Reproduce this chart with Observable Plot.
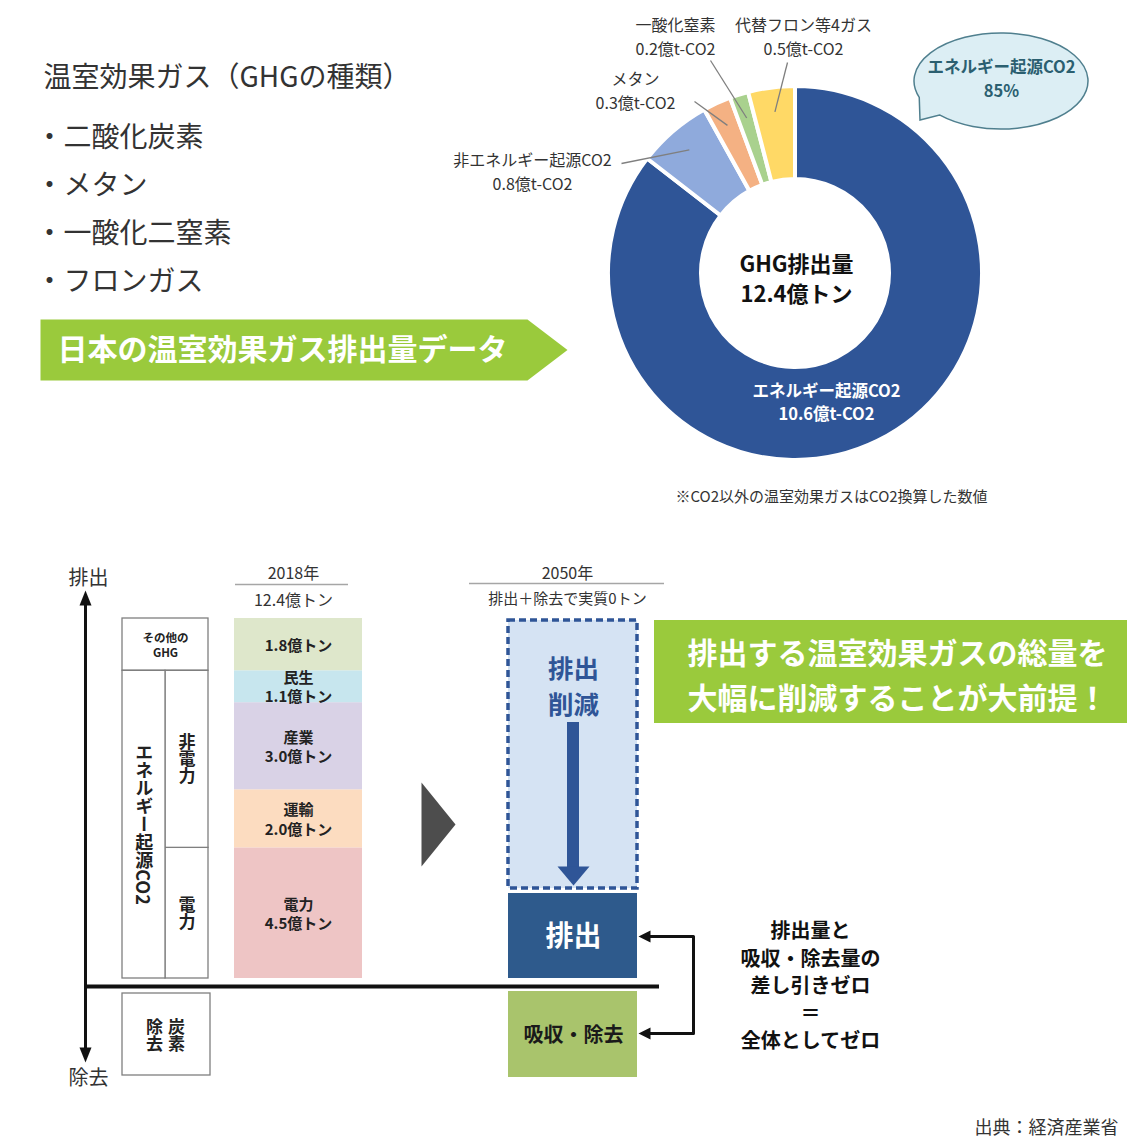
<!DOCTYPE html>
<html lang="ja">
<head>
<meta charset="utf-8">
<script src="https://cdn.jsdelivr.net/npm/d3@7"></script>
<script src="https://cdn.jsdelivr.net/npm/@observablehq/plot@0.6"></script>
<style>
html,body{margin:0;padding:0;background:#fff;}
#page{position:relative;width:1140px;height:1140px;background:#fff;overflow:hidden;}
#page svg{position:absolute;left:0;top:0;}
.vlabel{position:absolute;transform:translate(-50%,-50%);writing-mode:vertical-rl;text-orientation:mixed;
  font-family:"Noto Sans CJK JP","Noto Sans",sans-serif;font-weight:bold;color:#222;white-space:nowrap;line-height:1.3;}
</style>
</head>
<body>
<div id="page"></div>
<script>
// ---------------- DATA ----------------
const gasNames = ["エネルギー起源CO2", "非エネルギー起源CO2", "メタン", "一酸化窒素", "代替フロン等4ガス"];
const gasValues = [10.6, 0.8, 0.3, 0.2, 0.5];           // 億t-CO2
const gasColors = ["#2F5597", "#8FAADC", "#F4B183", "#A9D18E", "#FFD966"];

const sectorNames = ["電力", "運輸", "産業", "民生", "その他のGHG"];
const sectorValues = [4.5, 2.0, 3.0, 1.1, 1.8];         // 億トン (2018年)
const sectorColors = ["#EEC5C5", "#FCDCC0", "#D9D2E6", "#C7E6EE", "#DEE7CB"];

const groupNames = ["電力", "非電力", "その他のGHG"];
const groupValues = [4.5, 6.1, 1.8];

const ghgTypes = ["二酸化炭素", "メタン", "一酸化二窒素", "フロンガス"];

// ---------------- LAYOUT (pixels) ----------------
const FONT = '"Noto Sans CJK JP", "Noto Sans", sans-serif';
const L = {
  donut: {cx: 795, cy: 273, r0: 94, r1: 187, leaderR: 163},
  gasLabel: {
    "非エネルギー起源CO2": {x: 532, y: 170, lx: 621, ly: 163},
    "メタン": {x: 635, y: 89, lx: 694, ly: 101},
    "一酸化窒素": {x: 675, y: 35, lx: 710, ly: 60},
    "代替フロン等4ガス": {x: 803, y: 35, lx: 787, ly: 62}
  },
  energyLabel: {x: 826, y: 401},
  bubble: {cx: 1001, cy: 81, rx: 87, ry: 48, a1: 160, a2: 135, tx: 920, ty: 120},
  bar: {x1: 234, x2: 362, y0: 978, y1: 618},
  boxes: {c0: 122, c1: 165, c2: 208},
  removal: {x: 165, y: 1035}
};
const UNIT_GAS = "億t-CO2";

const page = document.getElementById("page");
const total = d3.sum(gasValues);
const fmt = v => v.toFixed(1);

function canvas(marks) {
  return Plot.plot({
    width: 1140, height: 1140, margin: 0,
    x: {domain: [0, 1140], range: [0, 1140], axis: null},
    y: {domain: [0, 1140], range: [0, 1140], axis: null},
    style: {background: "transparent", fontFamily: FONT, overflow: "visible"},
    marks
  });
}
const txt = (items, o) => Plot.text(items, {x: d => d[1], y: d => d[2], text: d => d[0], ...o});
const box = (x1, y1, x2, y2, o) => Plot.rect([0], {x1: () => x1, x2: () => x2, y1: () => y1, y2: () => y2, ...o});
const poly = (pts, fill) => Plot.line(pts, {x: d => d[0], y: d => d[1], fill, stroke: "none"});
const hline = (y, x1, x2, o) => Plot.ruleY([y], {x1: () => x1, x2: () => x2, ...o});
function vlabel(html, x, y, size) {
  const d = document.createElement("div");
  d.className = "vlabel";
  d.style.left = x + "px"; d.style.top = y + "px"; d.style.fontSize = size + "px";
  d.innerHTML = html;
  page.appendChild(d);
}

// ---------------- TOP: donut ----------------
const gases = gasNames.map((name, i) => ({name, value: gasValues[i], color: gasColors[i]}));
const arcs = d3.pie().sort(null).value(d => d.value)(gases);
const D = L.donut;
const polar = (a, r) => [D.cx + r * Math.sin(a), D.cy - r * Math.cos(a)];
const leaders = arcs.slice(1).map(a => {
  const p = polar((a.startAngle + a.endAngle) / 2, D.leaderR);
  const lab = L.gasLabel[a.data.name];
  return {...lab, ex: p[0], ey: p[1], name: a.data.name, value: a.data.value};
});

const donutMark = (index, scales) => {
  const k = scales.x(1) - scales.x(0);
  const g = d3.create("svg:g").attr("transform", `translate(${scales.x(D.cx)},${scales.y(D.cy)})`);
  const arc = d3.arc().innerRadius(D.r0 * k).outerRadius(D.r1 * k);
  g.selectAll("path").data(arcs).join("path")
    .attr("d", arc).attr("fill", d => d.data.color)
    .attr("stroke", "#fff").attr("stroke-width", 4).attr("stroke-linejoin", "round");
  return g.node();
};
const bubbleMark = (index, scales) => {
  const Bb = L.bubble, cx = scales.x(Bb.cx), cy = scales.y(Bb.cy);
  const p = a => [cx + Bb.rx * Math.cos(a * Math.PI / 180), cy + Bb.ry * Math.sin(a * Math.PI / 180)];
  const [x1, y1] = p(Bb.a1), [x2, y2] = p(Bb.a2);
  const path = `M${x1},${y1}A${Bb.rx},${Bb.ry} 0 1 1 ${x2},${y2}L${scales.x(Bb.tx)},${scales.y(Bb.ty)}Z`;
  return d3.create("svg:path").attr("d", path).attr("fill", "#DCEEF4")
    .attr("stroke", "#4F7F8E").attr("stroke-width", 1.5).node();
};

const topPlot = canvas([
  // left texts
  txt([["温室効果ガス（GHGの種類）", 43, 78]], {fontSize: 28, fill: "#333", textAnchor: "start"}),
  txt(ghgTypes.map((t, i) => ["・" + t, 35, 138 + i * 48]), {fontSize: 28, fill: "#333", textAnchor: "start"}),
  poly([[40, 319], [527, 319], [567, 349.5], [527, 380], [40, 380]], "#9ACA3C"),
  txt([["日本の温室効果ガス排出量データ", 57, 350]], {fontSize: 30, fontWeight: "bold", fill: "#fff", textAnchor: "start"}),
  // donut
  donutMark,
  Plot.link(leaders, {x1: "lx", y1: "ly", x2: "ex", y2: "ey", stroke: "#7F7F7F", strokeWidth: 1.3}),
  Plot.text(leaders, {x: "x", y: "y", text: d => `${d.name}\n${fmt(d.value)}${UNIT_GAS}`, fontSize: 16, lineHeight: 1.45, fill: "#333"}),
  Plot.text([gases[0]], {x: () => L.energyLabel.x, y: () => L.energyLabel.y, text: d => `${d.name}\n${fmt(d.value)}${UNIT_GAS}`, fontSize: 16.5, fontWeight: "bold", lineHeight: 1.36, fill: "#fff"}),
  txt([[`GHG排出量\n${fmt(total)}億トン`, 796, 277]], {fontSize: 22, fontWeight: "bold", lineHeight: 1.38, fill: "#111"}),
  bubbleMark,
  txt([[`${gasNames[0]}\n${Math.round(gasValues[0] / total * 100)}%`, 1001, 77]], {fontSize: 16.5, fontWeight: "bold", lineHeight: 1.42, fill: "#2B5F70"}),
  txt([["※CO2以外の温室効果ガスはCO2換算した数値", 675, 497]], {fontSize: 15, fill: "#333", textAnchor: "start"})
]);
page.appendChild(topPlot);

// ---------------- BOTTOM: schematic ----------------
const bottomPlot = canvas([
  // axis
  Plot.ruleX([85], {y1: () => 602, y2: () => 1050, stroke: "#111", strokeWidth: 3}),
  poly([[85, 590], [79, 605], [91, 605]], "#111"),
  poly([[85, 1062], [79, 1047], [91, 1047]], "#111"),
  hline(986, 85, 659, {stroke: "#111", strokeWidth: 4}),
  txt([["排出", 88, 578], ["除去", 88, 1078]], {fontSize: 20, fill: "#333"}),
  // headers
  txt([["2018年", 293, 573], [`${fmt(d3.sum(sectorValues))}億トン`, 293, 600], ["2050年", 567, 573]], {fontSize: 16, fill: "#333"}),
  txt([["排出＋除去で実質0トン", 567, 599]], {fontSize: 15, fill: "#333"}),
  hline(584, 235, 348, {stroke: "#A6A6A6", strokeWidth: 1.5}),
  hline(583, 469, 664, {stroke: "#A6A6A6", strokeWidth: 1.5}),
  // carbon removal box
  box(122, 993, 210, 1075, {fill: "#fff", stroke: "#7F7F7F", strokeWidth: 1.3}),
  // transition triangle
  poly([[421, 782], [455, 824], [421, 866]], "#4D4D4D"),
  // 2050 bars
  box(508, 620, 637, 888, {fill: "#D5E3F3", stroke: "#2F5597", strokeWidth: 3.5, strokeDasharray: "7,4"}),
  txt([["排出\n削減", 573, 684]], {fontSize: 25.5, fontWeight: "bold", lineHeight: 1.4, fill: "#2F5597"}),
  box(567, 722, 579, 868, {fill: "#2F5597"}),
  poly([[557, 866], [589, 866], [573, 885]], "#2F5597"),
  box(508, 893, 637, 978, {fill: "#2E5A8C"}),
  txt([["排出", 573, 937]], {fontSize: 28, fontWeight: "bold", fill: "#fff"}),
  box(508, 991, 637, 1077, {fill: "#A9C46C"}),
  txt([["吸収・除去", 573, 1035]], {fontSize: 20, fontWeight: "bold", fill: "#1A1A1A"}),
  // connector
  Plot.line([[648, 936], [693, 936], [693, 1033], [648, 1033]], {x: d => d[0], y: d => d[1], stroke: "#111", strokeWidth: 3}),
  poly([[638, 936], [650, 930], [650, 942]], "#111"),
  poly([[638, 1033], [650, 1027], [650, 1039]], "#111"),
  txt([["排出量と\n吸収・除去量の\n差し引きゼロ\n＝\n全体としてゼロ", 810, 984]], {fontSize: 20, fontWeight: "bold", lineHeight: 1.37, fill: "#111"}),
  // message box
  box(654, 620, 1127, 723, {fill: "#9ACA3C"}),
  txt([["排出する温室効果ガスの総量を\n大幅に削減することが大前提！", 897, 672]], {fontSize: 30, fontWeight: "bold", lineHeight: 1.5, fill: "#fff"}),
  txt([["出典：経済産業省", 1118, 1128]], {fontSize: 18, fill: "#333", textAnchor: "end"})
]);
page.appendChild(bottomPlot);

// ---------------- 2018 stacked bar (data scale) ----------------
const sectors = sectorNames.map((name, i) => ({name, value: sectorValues[i]}));
const groups = groupNames.map((name, i) => ({name, value: groupValues[i]}));
const BAR = L.bar, C = L.boxes;
const energyTotal = gasValues[0];
const sectorLabel = d => (d.name === "その他のGHG" ? "" : d.name + "\n") + fmt(d.value) + "億トン";
const stackedPlot = Plot.plot({
  width: 1140, height: 1140, margin: 0,
  x: {domain: [0, 1140], range: [0, 1140], axis: null},
  y: {domain: [0, total], range: [BAR.y0, BAR.y1], axis: null},
  color: {domain: sectorNames, range: sectorColors},
  style: {background: "transparent", fontFamily: FONT, overflow: "visible"},
  marks: [
    Plot.rectY(sectors, {x1: () => BAR.x1, x2: () => BAR.x2, y: "value", fill: "name"}),
    Plot.text(sectors, Plot.stackY({x: () => (BAR.x1 + BAR.x2) / 2, y: "value", text: sectorLabel, fontSize: 15, fontWeight: "bold", lineHeight: 1.28, fill: "#222"})),
    // grouping boxes
    Plot.rectY(groups.slice(0, 2), {x1: () => C.c1, x2: () => C.c2, y: "value", fill: "#fff", stroke: "#7F7F7F", strokeWidth: 1.3}),
    Plot.rectY([energyTotal], {x1: () => C.c0, x2: () => C.c1, y1: () => 0, y2: d => d, fill: "#fff", stroke: "#7F7F7F", strokeWidth: 1.3}),
    Plot.rectY(groups, {x1: () => C.c0, x2: () => C.c2, y: "value", fill: "none", stroke: d => d.name === "その他のGHG" ? "#7F7F7F" : "none", strokeWidth: 1.3}),
    Plot.text(groups, Plot.stackY({x: () => (C.c0 + C.c2) / 2, y: "value", text: d => d.name === "その他のGHG" ? "その他の\nGHG" : "", fontSize: 11.5, fontWeight: "bold", lineHeight: 1.35, fill: "#222"}))
  ]
});
page.appendChild(stackedPlot);

// vertical (tategaki) column labels placed with the stacked plot's y scale
const ys = stackedPlot.scale("y");
let acc = 0;
groups.slice(0, 2).forEach(g => {
  vlabel(g.name, (C.c1 + C.c2) / 2, ys.apply(acc + g.value / 2), 17);
  acc += g.value;
});
vlabel(gasNames[0], (C.c0 + C.c1) / 2, ys.apply(energyTotal / 2), 18);
vlabel("炭素<br>除去", L.removal.x, L.removal.y, 17);
</script>
</body>
</html>
